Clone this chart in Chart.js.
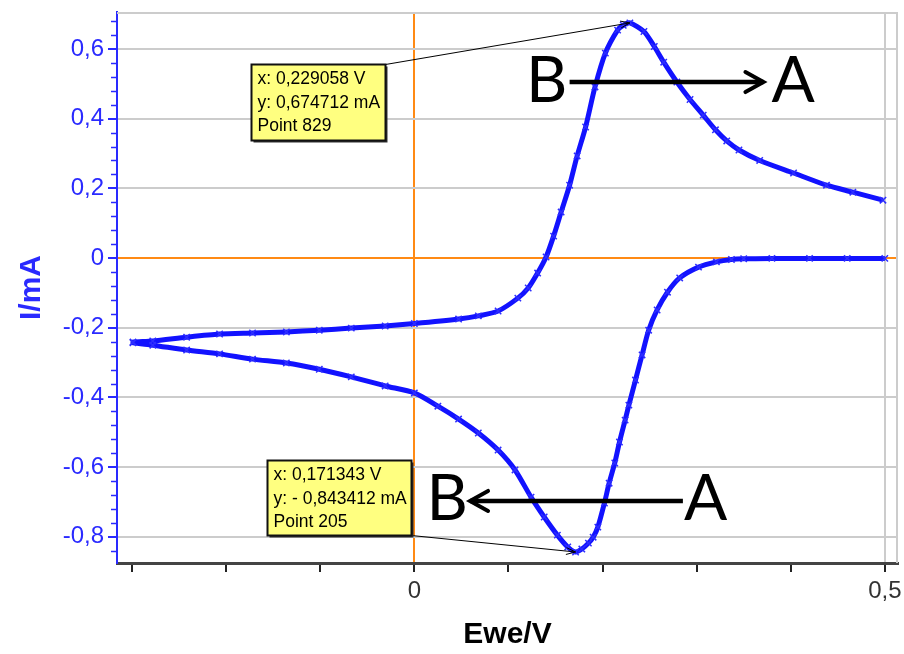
<!DOCTYPE html>
<html>
<head>
<meta charset="utf-8">
<script src="https://cdn.jsdelivr.net/npm/chart.js@4/dist/chart.umd.min.js"></script>
<style>
  html, body { margin: 0; padding: 0; background: #ffffff; }
  canvas { display: block; }
</style>
</head>
<body>
<canvas id="cv" width="904" height="654"></canvas>
<script>
// Cyclic voltammogram, current I (mA) against electrode potential Ewe (V).
// Cathodic sweep: from 0.5 V down to -0.3 V.
const cathodicE = [0.500, 0.460, 0.420, 0.380, 0.350, 0.337, 0.321, 0.302, 0.282, 0.269,
                   0.258, 0.249, 0.242, 0.235, 0.228, 0.224, 0.218, 0.213, 0.207, 0.202,
                   0.195, 0.190, 0.185, 0.178, 0.171343, 0.163, 0.152, 0.138, 0.124, 0.107,
                   0.089, 0.068, 0.047, 0.025, 0.000, -0.031, -0.067, -0.101, -0.136, -0.172,
                   -0.207, -0.242, -0.278, -0.299];
const cathodicI = [-0.001, -0.001, -0.001, -0.001, -0.002, -0.004, -0.011, -0.026, -0.057, -0.098,
                   -0.149, -0.207, -0.278, -0.350, -0.422, -0.465, -0.528, -0.588, -0.646, -0.703,
                   -0.772, -0.801, -0.818, -0.835, -0.843412, -0.829, -0.795, -0.743, -0.686, -0.608,
                   -0.551, -0.502, -0.462, -0.425, -0.387, -0.367, -0.341, -0.319, -0.301, -0.290,
                   -0.275, -0.264, -0.250, -0.243];
// Anodic sweep: back from -0.3 V up to 0.5 V.
const anodicE = [-0.299, -0.278, -0.242, -0.207, -0.172, -0.136, -0.101, -0.067, -0.031, 0.000,
                 0.047, 0.068, 0.089, 0.110, 0.121, 0.131, 0.140, 0.148, 0.156, 0.165,
                 0.173, 0.182, 0.192, 0.203, 0.216, 0.222, 0.229058, 0.244, 0.255, 0.265,
                 0.279, 0.293, 0.307, 0.320, 0.332, 0.345, 0.367, 0.403, 0.438, 0.466, 0.498];
const anodicI = [-0.241, -0.238, -0.227, -0.218, -0.215, -0.212, -0.207, -0.201, -0.195, -0.188,
                 -0.175, -0.166, -0.152, -0.115, -0.086, -0.043, 0.003, 0.063, 0.132, 0.209,
                 0.293, 0.376, 0.491, 0.588, 0.654, 0.668, 0.674712, 0.650, 0.607, 0.562,
                 0.505, 0.455, 0.410, 0.368, 0.336, 0.310, 0.280, 0.244, 0.209, 0.189, 0.166];

// Cursor read-outs of the two peaks
const anodicPeak = { point: 829, E: 0.229058, I: 0.674712 };
const cathodicPeak = { point: 205, E: 0.171343, I: -0.843412 };

// Axis ticks
const xTickValues = [-0.3, -0.2, -0.1, 0, 0.1, 0.2, 0.3, 0.4, 0.5];
const xLabelledTicks = [0, 0.5];
const yMajorTicks = [-0.8, -0.6, -0.4, -0.2, 0, 0.2, 0.4, 0.6];
const yMinorStep = 0.04;
const xRange = [-0.316, 0.514];
const yRange = [-0.875, 0.706];

const scanPoints = cathodicE.map((e, i) => ({ x: e, y: cathodicI[i] }))
  .concat(anodicE.map((e, i) => ({ x: e, y: anodicI[i] })));

const BLUE = '#2a2aff';
const GRID = '#cccccc';
const ZERO = '#ff8a14';

const near = (a, b) => Math.abs(a - b) < 1e-9;
const axisLabel = v => {
  const r = Math.round(v * 10) / 10;
  return r === 0 ? '0' : String(r).replace('.', ',');
};
const readout = v => (v < 0 ? '- ' : '') + Math.abs(v).toFixed(6).replace('.', ',');

// Frame, minor ticks, direction arrows and peak read-out boxes
const decorations = {
  id: 'decorations',
  beforeDatasetsDraw(chart) {
    const { ctx, chartArea: a } = chart;
    ctx.save();
    ctx.strokeStyle = GRID;
    ctx.lineWidth = 2;
    ctx.beginPath();
    ctx.moveTo(a.left, a.top + 1);
    ctx.lineTo(a.right - 1, a.top + 1);
    ctx.lineTo(a.right - 1, a.bottom);
    ctx.stroke();
    ctx.restore();
  },
  afterDraw(chart) {
    const { ctx, chartArea: a, scales: { x, y } } = chart;
    ctx.save();

    // minor ticks on the current axis
    ctx.strokeStyle = BLUE;
    ctx.lineWidth = 1.5;
    for (let v = yMajorTicks[0] - yMinorStep; v <= yMajorTicks[yMajorTicks.length - 1] + 2 * yMinorStep + 1e-9; v += yMinorStep) {
      if (yMajorTicks.some(m => near(m, Math.round(v * 100) / 100))) continue;
      const py = Math.round(y.getPixelForValue(v)) + 0.5;
      if (py < a.top || py > a.bottom) continue;
      ctx.beginPath();
      ctx.moveTo(a.left - 6, py);
      ctx.lineTo(a.left, py);
      ctx.stroke();
    }

    // sweep direction arrows
    ctx.fillStyle = '#000';
    ctx.strokeStyle = '#000';
    ctx.font = '64px Lato';
    ctx.textAlign = 'center';
    ctx.textBaseline = 'alphabetic';
    const arrow = (e1, e2, i, headAtEnd) => {
      const x1 = x.getPixelForValue(e1), x2 = x.getPixelForValue(e2), py = y.getPixelForValue(i);
      ctx.lineWidth = 4.5;
      ctx.lineCap = 'butt';
      ctx.beginPath();
      ctx.moveTo(x1, py);
      ctx.lineTo(x2, py);
      ctx.stroke();
      const hx = headAtEnd ? x2 : x1;
      const d = headAtEnd ? -1 : 1;
      ctx.lineWidth = 4;
      ctx.lineCap = 'round';
      ctx.beginPath();
      ctx.moveTo(hx + d * 18, py - 10);
      ctx.lineTo(hx, py);
      ctx.lineTo(hx + d * 18, py + 10);
      ctx.stroke();
    };
    ctx.fillText('B', x.getPixelForValue(0.1406), y.getPixelForValue(0.4476));
    ctx.fillText('A', x.getPixelForValue(0.4027), y.getPixelForValue(0.4476));
    arrow(0.165, 0.371, 0.505, true);
    ctx.fillText('B', x.getPixelForValue(0.0349), y.getPixelForValue(-0.752));
    ctx.fillText('A', x.getPixelForValue(0.3097), y.getPixelForValue(-0.752));
    arrow(0.0592, 0.2854, -0.697, false);

    // peak read-out boxes with leader lines
    const box = (e, i, w, h, peak, fromBottom) => {
      const bx = Math.round(x.getPixelForValue(e)) + 0.5;
      const by = Math.round(y.getPixelForValue(i)) + 0.5;
      const px = x.getPixelForValue(peak.E), py = y.getPixelForValue(peak.I);
      const sx = bx + w, sy = fromBottom ? by + h : by;
      ctx.strokeStyle = '#000';
      ctx.lineWidth = 1;
      ctx.lineCap = 'butt';
      ctx.beginPath();
      ctx.moveTo(sx, sy);
      ctx.lineTo(px, py);
      ctx.stroke();
      const ang = Math.atan2(py - sy, px - sx);
      ctx.beginPath();
      ctx.moveTo(px - 10 * Math.cos(ang - 0.35), py - 10 * Math.sin(ang - 0.35));
      ctx.lineTo(px, py);
      ctx.lineTo(px - 10 * Math.cos(ang + 0.35), py - 10 * Math.sin(ang + 0.35));
      ctx.stroke();

      ctx.fillStyle = '#333';
      ctx.fillRect(bx + 2, by + 2, w, h);
      ctx.fillStyle = '#ffff80';
      ctx.fillRect(bx, by, w, h);
      ctx.lineWidth = 2;
      ctx.strokeStyle = '#111';
      ctx.strokeRect(bx, by, w, h);

      ctx.fillStyle = '#000';
      ctx.font = '17.5px "Liberation Sans"';
      ctx.textAlign = 'left';
      ctx.textBaseline = 'middle';
      const lines = ['x: ' + readout(peak.E) + ' V', 'y: ' + readout(peak.I) + ' mA', 'Point ' + peak.point];
      lines.forEach((t, k) => ctx.fillText(t, bx + 6, by + 15 + k * 23.5));
    };
    box(-0.1734, 0.5567, 134, 76, anodicPeak, false);
    box(-0.1564, -0.5796, 144, 75, cathodicPeak, true);

    ctx.restore();
  }
};

new Chart(document.getElementById('cv'), {
  type: 'scatter',
  data: {
    datasets: [{
      data: scanPoints,
      showLine: true,
      borderColor: '#1212ff',
      borderWidth: 5,
      tension: 0.25,
      pointStyle: 'crossRot',
      pointRadius: 4.5,
      pointBorderWidth: 1.5,
      pointBorderColor: '#2e2eff',
      pointBackgroundColor: '#2e2eff'
    }]
  },
  options: {
    responsive: false,
    animation: false,
    layout: { padding: { left: 0, right: 2, top: 12, bottom: 0 } },
    plugins: { legend: { display: false }, tooltip: { enabled: false } },
    font: { family: '"Liberation Sans", Arial, sans-serif' },
    scales: {
      x: {
        type: 'linear',
        min: xRange[0],
        max: xRange[1],
        afterBuildTicks: s => { s.ticks = xTickValues.map(v => ({ value: v })); },
        afterFit: s => { s.height = 91; s.paddingLeft = 0; s.paddingRight = 0; },
        ticks: {
          autoSkip: false,
          maxRotation: 0,
          padding: 5,
          color: '#333',
          font: { size: 24, family: '"Liberation Sans"' },
          callback: v => xLabelledTicks.some(t => near(t, v)) ? axisLabel(v) : ''
        },
        grid: {
          color: c => near(c.tick.value, 0) ? ZERO : (near(c.tick.value, 0.5) ? GRID : 'rgba(0,0,0,0)'),
          lineWidth: 2,
          tickColor: '#222',
          tickWidth: 2,
          tickLength: 9
        },
        border: { color: '#444', width: 3 },
        title: {
          display: true,
          text: 'Ewe/V',
          color: '#000',
          font: { size: 30, weight: 'bold', family: '"Liberation Sans"' },
          padding: { top: 0, bottom: 1 }
        }
      },
      y: {
        type: 'linear',
        min: yRange[0],
        max: yRange[1],
        afterBuildTicks: s => { s.ticks = yMajorTicks.map(v => ({ value: v })); },
        afterFit: s => { s.width = 117; s.paddingTop = 0; s.paddingBottom = 0; },
        ticks: {
          autoSkip: false,
          padding: 4,
          color: BLUE,
          font: { size: 24, family: '"Liberation Sans"' },
          callback: v => axisLabel(v)
        },
        grid: {
          color: c => near(c.tick.value, 0) ? ZERO : GRID,
          lineWidth: 2,
          tickColor: BLUE,
          tickWidth: 2,
          tickLength: 9
        },
        border: { color: BLUE, width: 2 },
        title: {
          display: true,
          text: 'I/mA',
          color: BLUE,
          font: { size: 30, weight: 'bold', family: '"Liberation Sans"' },
          padding: { top: 14, bottom: 0 }
        }
      }
    }
  },
  plugins: [decorations]
});
</script>
</body>
</html>
